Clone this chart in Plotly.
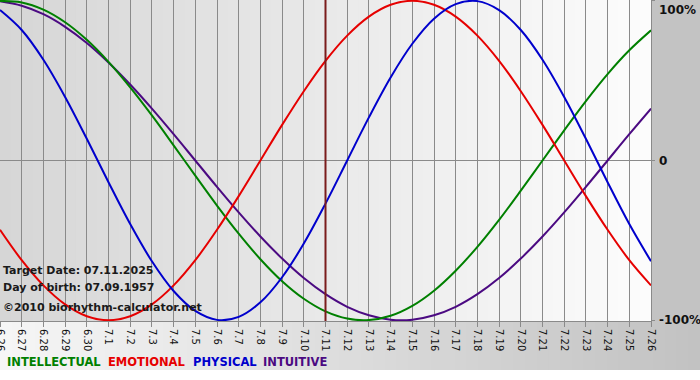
import plotly.graph_objects as go

# ---- data ----
dates = ["6.26", "6.27", "6.28", "6.29", "6.30", "7.1", "7.2", "7.3", "7.4", "7.5", "7.6",
         "7.7", "7.8", "7.9", "7.10", "7.11", "7.12", "7.13", "7.14", "7.15", "7.16", "7.17",
         "7.18", "7.19", "7.20", "7.21", "7.22", "7.23", "7.24", "7.25", "7.26"]

intellectual = [0.999, 0.990, 0.945, 0.866, 0.756, 0.618, 0.458, 0.282, 0.095, -0.095, -0.282,
                -0.458, -0.618, -0.756, -0.866, -0.945, -0.990, -0.999, -0.972, -0.910, -0.815,
                -0.690, -0.541, -0.372, -0.189, 0.000, 0.189, 0.372, 0.541, 0.690, 0.815]
emotional = [-0.434, -0.624, -0.782, -0.901, -0.975, -1.000, -0.975, -0.901, -0.782, -0.624, -0.434,
             -0.223, 0.000, 0.223, 0.434, 0.624, 0.782, 0.901, 0.975, 1.000, 0.975, 0.901,
             0.782, 0.624, 0.434, 0.223, 0.000, -0.223, -0.434, -0.624, -0.782]
physical = [0.942, 0.817, 0.631, 0.398, 0.136, -0.136, -0.398, -0.631, -0.817, -0.942, -0.998,
            -0.979, -0.888, -0.731, -0.520, -0.270, 0.000, 0.270, 0.520, 0.731, 0.888, 0.979,
            0.998, 0.942, 0.817, 0.631, 0.398, 0.136, -0.136, -0.398, -0.631]
intuitive = [0.997, 0.969, 0.916, 0.837, 0.736, 0.614, 0.476, 0.325, 0.165, 0.000, -0.165,
             -0.325, -0.476, -0.614, -0.736, -0.837, -0.916, -0.969, -0.997, -0.997, -0.969, -0.916,
             -0.837, -0.736, -0.614, -0.476, -0.325, -0.165, 0.000, 0.165, 0.325]

target_label = "7.11"
info_lines = ["Target Date: 07.11.2025", "Day of birth: 07.09.1957", "\u00a92010 biorhythm-calculator.net"]
legend_names = ["INTELLECTUAL", "EMOTIONAL", "PHYSICAL", "INTUITIVE"]
ytick_labels = ["100%", "0", "-100%"]
ytick_vals = [1, 0, -1]

# ---- styles ----
W, H = 700, 380
ML, MR, MT, MB = 0, 49, 0, 59
PW, PH = W - ML - MR, H - MT - MB
colors = {"INTELLECTUAL": "#008000", "EMOTIONAL": "#e60000", "PHYSICAL": "#0000cc", "INTUITIVE": "#4b0a82"}
series = {"INTELLECTUAL": intellectual, "EMOTIONAL": emotional, "PHYSICAL": physical, "INTUITIVE": intuitive}
draw_order = ["INTUITIVE", "INTELLECTUAL", "EMOTIONAL", "PHYSICAL"]

def px_x(p):
    return (p - ML) / PW

def px_y(p):
    return (MT + PH - p) / PH

def lerp_col(c1, c2, t):
    r = [round(c1[i] + (c2[i] - c1[i]) * t) for i in range(3)]
    return "rgb(%d,%d,%d)" % tuple(r)

fig = go.Figure()
for name in draw_order:
    fig.add_trace(go.Scatter(x=dates, y=series[name], mode="lines", name=name,
                             line=dict(color=colors[name], width=2, shape="spline", smoothing=1.0),
                             hoverinfo="skip", showlegend=False))

shapes = []
N = 60
# plot area gradient (gray left -> white right)
for k in range(N):
    shapes.append(dict(type="rect", xref="paper", yref="paper", x0=k / N, x1=(k + 1) / N + 0.002,
                       y0=0, y1=1, fillcolor=lerp_col((214, 214, 214), (252, 252, 252), k / (N - 1)),
                       line=dict(width=0), layer="below"))
# bottom band gradient (light left -> gray right)
for k in range(N):
    x0 = px_x(k * W / N)
    x1 = px_x((k + 1) * W / N + 1)
    shapes.append(dict(type="rect", xref="paper", yref="paper", x0=x0, x1=x1,
                       y0=px_y(370), y1=0, fillcolor=lerp_col((246, 246, 246), (194, 194, 194), k / (N - 1)),
                       line=dict(width=0), layer="below"))
# right band
shapes.append(dict(type="rect", xref="paper", yref="paper", x0=1, x1=px_x(W + 2),
                   y0=0, y1=1.01, fillcolor="#c3c3c3", line=dict(width=0), layer="below"))
# target date marker
t_idx = dates.index(target_label)
shapes.append(dict(type="line", xref="x", yref="paper", x0=t_idx, x1=t_idx,
                   y0=0, y1=1, line=dict(color="#7a1c1c", width=2), layer="above"))

annotations = []
for lbl, v in zip(ytick_labels, ytick_vals):
    ya = "top" if v == 1 else "middle"
    annotations.append(dict(text="<b>%s</b>" % lbl, xref="paper", yref="y", x=px_x(657), y=v,
                            xanchor="left", yanchor=ya, showarrow=False,
                            font=dict(family="DejaVu Sans", size=12, color="#111111")))
for line_txt, py in zip(info_lines, [270, 287, 307]):
    annotations.append(dict(text="<b>%s</b>" % line_txt, xref="paper", yref="paper", x=px_x(1), y=px_y(py),
                            xanchor="left", yanchor="middle", showarrow=False,
                            font=dict(family="DejaVu Sans", size=11, color="#1a1a1a")))
for name, px in zip(legend_names, [5, 106, 191, 261]):
    annotations.append(dict(text="<b>%s</b>" % name, xref="paper", yref="paper", x=px_x(px), y=px_y(362),
                            xanchor="left", yanchor="middle", showarrow=False,
                            font=dict(family="DejaVu Sans", size=11.5, color=colors[name])))

fig.update_layout(
    width=W, height=H, margin=dict(l=ML, r=MR, t=MT, b=MB, pad=0, autoexpand=False),
    paper_bgcolor="#ffffff", plot_bgcolor="rgba(0,0,0,0)",
    shapes=shapes, annotations=annotations,
    xaxis=dict(type="category", range=[0, len(dates) - 1], showgrid=True, gridcolor="#8a8a8a", gridwidth=1,
               tickangle=90, ticks="outside", ticklen=5, tickcolor="#8a8a8a", automargin=False,
               tickfont=dict(family="DejaVu Sans", size=10, color="#111111"),
               showline=True, linecolor="#8a8a8a", mirror=True, zeroline=False, fixedrange=True),
    yaxis=dict(range=[-1.005, 1.005], tickvals=ytick_vals, showticklabels=False, showgrid=True,
               gridcolor="#8a8a8a", gridwidth=1, zeroline=False, side="right", ticks="outside",
               ticklen=3, tickcolor="#8a8a8a", showline=True, linecolor="#8a8a8a", mirror=True,
               fixedrange=True, automargin=False),
)

fig.write_html("out.html", config={"displayModeBar": False},
               post_script="document.body.style.margin='0';document.body.style.overflow='hidden';")
